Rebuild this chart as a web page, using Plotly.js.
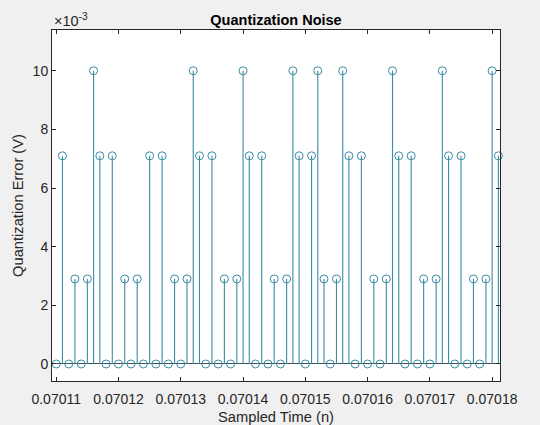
<!DOCTYPE html>
<html>
<head>
<meta charset="utf-8">
<script src="https://cdn.plot.ly/plotly-3.0.1.min.js"></script>
<style>
  html, body { margin: 0; padding: 0; background: #f0f0f0; }
  #chart { width: 540px; height: 425px; }
</style>
</head>
<body>
<div id="chart"></div>
<script>
// Sample clock
const startTime = 0.07011;      // first sample time (s)
const samplePeriod = 1e-6;      // sampling interval (s)

// Quantization error values, in units of 1e-3 V
const errorMilli = [
  0, 7.1, 0, 2.9, 0, 2.9, 10, 7.1, 0, 7.1,
  0, 2.9, 0, 2.9, 0, 7.1, 0, 7.1, 0, 2.9,
  0, 2.9, 10, 7.1, 0, 7.1, 0, 2.9, 0, 2.9,
  10, 7.1, 0, 7.1, 0, 2.9, 0, 2.9, 10, 7.1,
  0, 7.1, 10, 2.9, 0, 2.9, 10, 7.1, 0, 7.1,
  0, 2.9, 0, 2.9, 10, 7.1, 0, 7.1, 0, 2.9,
  0, 2.9, 10, 7.1, 0, 7.1, 0, 2.9, 0, 2.9,
  10, 7.1
];

// Tick labels
const xTickVals = [0.07011, 0.07012, 0.07013, 0.07014, 0.07015, 0.07016, 0.07017, 0.07018];
const xTickText = ['0.07011', '0.07012', '0.07013', '0.07014', '0.07015', '0.07016', '0.07017', '0.07018'];
const yTickMilli = [0, 2, 4, 6, 8, 10];
const yTickText = ['0', '2', '4', '6', '8', '10'];

const t = errorMilli.map((_, i) => startTime + i * samplePeriod);
const y = errorMilli.map(v => v * 1e-3);

const stemColor = '#3a8ca4';
const axisColor = '#262626';
const fontFamily = 'Liberation Sans, Arial, Helvetica, sans-serif';

const trace = {
  type: 'scatter',
  mode: 'markers',
  x: t,
  y: y,
  cliponaxis: false,
  marker: { symbol: 'circle-open', size: 8, color: stemColor, line: { width: 1, color: stemColor } },
  error_y: {
    type: 'data', symmetric: false,
    array: y.map(() => 0),
    arrayminus: y,
    width: 0, thickness: 1.1, color: stemColor
  },
  hoverinfo: 'x+y'
};

const layout = {
  width: 540, height: 425,
  paper_bgcolor: '#f0f0f0',
  plot_bgcolor: '#ffffff',
  margin: { l: 52, r: 40, t: 30, b: 44 },
  showlegend: false,
  font: { family: fontFamily, color: axisColor },
  title: {
    text: '<b>Quantization Noise</b>',
    font: { family: fontFamily, size: 14.5, color: '#000000' },
    x: 0.5, xref: 'paper', xanchor: 'center',
    y: 1 - 19.5 / 425, yref: 'container', yanchor: 'middle'
  },
  xaxis: {
    range: [0.07010932, 0.07018126],
    tickvals: xTickVals, ticktext: xTickText,
    ticks: 'inside', ticklen: 4, tickwidth: 1, tickcolor: axisColor,
    showline: true, linecolor: axisColor, linewidth: 1, mirror: 'ticks',
    showgrid: false, zeroline: false,
    ticklabelstandoff: 5,
    tickfont: { family: fontFamily, size: 14, color: axisColor },
    title: { text: 'Sampled Time (n)', font: { family: fontFamily, size: 14.7, color: axisColor }, standoff: 6 }
  },
  yaxis: {
    range: [-0.00058, 0.01139],
    tickvals: yTickMilli.map(v => v * 1e-3), ticktext: yTickText,
    ticks: 'inside', ticklen: 4, tickwidth: 1, tickcolor: axisColor,
    showline: true, linecolor: axisColor, linewidth: 1, mirror: 'ticks',
    showgrid: false,
    zeroline: true, zerolinecolor: '#3f4f55', zerolinewidth: 1,
    tickfont: { family: fontFamily, size: 14, color: axisColor },
    title: { text: 'Quantization Error (V)', font: { family: fontFamily, size: 14.7, color: axisColor }, standoff: 5 }
  },
  annotations: [{
    text: '×10<sup>-3</sup>',
    xref: 'paper', yref: 'paper', x: 0, y: 1,
    xanchor: 'left', yanchor: 'bottom', yshift: -1,
    showarrow: false,
    font: { family: fontFamily, size: 14.5, color: axisColor }
  }]
};

Plotly.newPlot('chart', [trace], layout, { displayModeBar: false, staticPlot: true });
</script>
</body>
</html>
